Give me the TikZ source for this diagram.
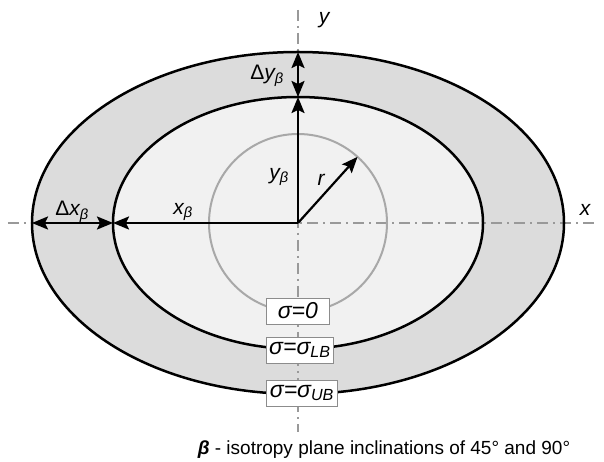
\documentclass[tikz,border=0pt]{standalone}
\usepackage{fontspec}
\setmainfont{Liberation Sans}
\usetikzlibrary{arrows.meta}
\definecolor{anillo}{HTML}{DCDCDC}
\definecolor{interior}{HTML}{F1F1F1}
\definecolor{circulo}{HTML}{A8A8A8}
\definecolor{eje}{HTML}{999999}
\definecolor{marco}{HTML}{8C8C8C}
\tikzset{
  flecha/.style={line width=2.2pt, -{Stealth[length=16pt,width=13pt,inset=3pt]}},
  doble/.style={line width=2.2pt, {Stealth[length=16pt,width=13pt,inset=3pt]}-{Stealth[length=16pt,width=13pt,inset=3pt]}},
  caja/.style={draw=marco, fill=white, line width=0.8pt, inner sep=2pt, anchor=west, minimum height=26pt, font=\fontsize{23}{25}\selectfont\itshape}
}
\begin{document}
\begin{tikzpicture}[x=1pt,y=1pt,font=\fontsize{21}{24}\selectfont\itshape]
\useasboundingbox (-298,-239) rectangle (306,223);
\coordinate (O) at (0,0);
\coordinate (innerL) at (-185,0);
\coordinate (outerL) at (-266,0);
\coordinate (innerT) at (0,126);
\coordinate (outerT) at (0,171);
\coordinate (rEnd) at (48:89);
\coordinate (axL) at (-290,0);
\coordinate (axR) at (299,0);
\coordinate (axT) at (0,213);
\coordinate (axB) at (0,-209);
\fill[anillo] (O) ellipse[x radius=266pt, y radius=171pt];
\fill[interior] (O) ellipse[x radius=185pt, y radius=126pt];
\draw[eje, line width=1.6pt, dash pattern=on 11pt off 5pt on 2pt off 5pt] (axL) -- (axR) (axT) -- (axB);
\draw[circulo, line width=2pt] (O) circle[radius=89pt];
\draw[line width=2.5pt] (O) ellipse[x radius=266pt, y radius=171pt];
\draw[line width=2.5pt] (O) ellipse[x radius=185pt, y radius=126pt];
\draw[flecha] (O) -- (innerT);
\draw[flecha] (O) -- (innerL);
\draw[flecha] (O) -- (rEnd);
\draw[doble] (innerT) -- (outerT);
\draw[doble] (outerL) -- (innerL);
\foreach \y/\w/\t/\n in {-88/63/{σ=0}/s0, -127/67/{σ=σ\textsubscript{LB}}/slb, -170/71/{σ=σ\textsubscript{UB}}/sub}
  \node[caja, minimum width=\w pt] (\n) at (-32,\y) {\t};
\node (ly) at (26,203) {y};
\node (lx) at (287,13) {x};
\node (ldy) at (-31,147) {{\upshape Δ}y\textsubscript{β}};
\node (ldx) at (-226,11) {{\upshape Δ}x\textsubscript{β}};
\node (lxb) at (-115,11) {x\textsubscript{β}};
\node (lyb) at (-19,46) {y\textsubscript{β}};
\node (lr) at (23,43) {r};
\node[font=\fontsize{19}{21}\selectfont] (nota) at (86,-227) {\textbf{\itshape β} - isotropy plane inclinations of 45° and 90°};
\end{tikzpicture}
\end{document}
